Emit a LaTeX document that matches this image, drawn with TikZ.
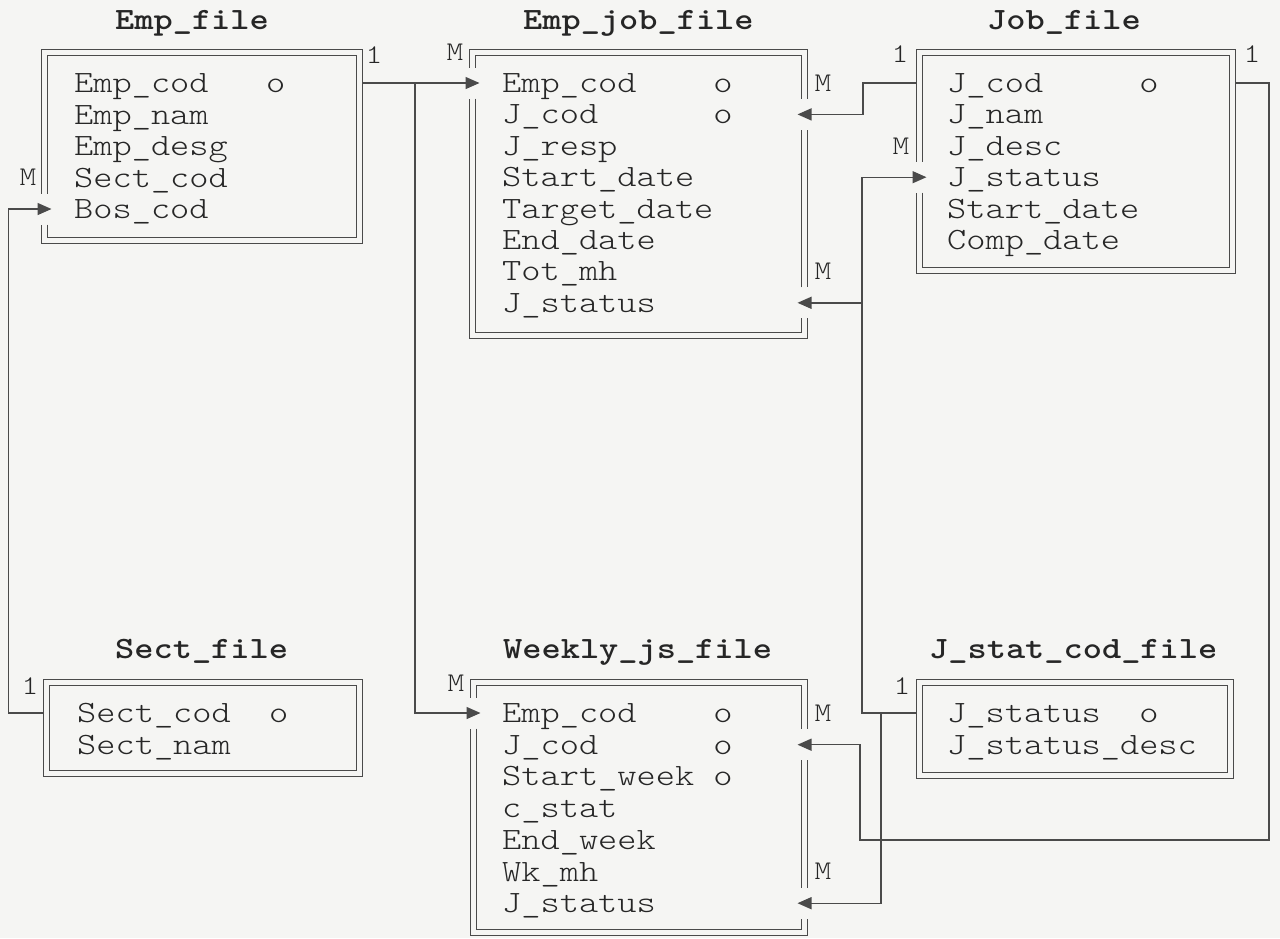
\documentclass[tikz,border=0pt]{standalone}
\usepackage{fontspec}
\newfontfamily\courfont{lmmonolt10-regular.otf}[FakeStretch=1.18, BoldFont=lmmonolt10-bold.otf]
\usetikzlibrary{arrows.meta,calc}
\definecolor{paper}{HTML}{F5F5F3}
\definecolor{inkgray}{HTML}{262626}
\definecolor{linegray}{HTML}{4A4A4A}

\tikzset{
  filebox/.style={draw=none, inner sep=0pt, outer sep=0pt},
  dbl/.style={draw=linegray, line width=1.4pt, double=paper, double distance=4.6pt},
  conn/.style={draw=linegray, line width=1.4pt, -{Triangle[length=14pt,width=12pt]}},
  fld/.style={font=\courfont\fontsize{31}{31}\selectfont, text=inkgray, anchor=west,
    inner sep=0pt, text height=19pt, text depth=0pt},
  ttl/.style={font=\courfont\bfseries\fontsize{31}{31}\selectfont, text=inkgray,
    anchor=base west, inner sep=0pt},
  mult/.style={font=\courfont\fontsize{27}{27}\selectfont, text=inkgray, inner sep=0pt},
}

\begin{document}
\begin{tikzpicture}[x=1pt, y=-1pt]
\fill[paper] (0,0) rectangle (1280,938);
\useasboundingbox (0,0) rectangle (1280,938);

% ---- file boxes (border centre lines) ----
\node[filebox, minimum width=315pt, minimum height=188pt] (ef) at (202,146.5) {};
\node[filebox, minimum width=332pt, minimum height=283pt] (ej) at (638.5,194) {};
\node[filebox, minimum width=313pt, minimum height=218pt] (jf) at (1076,161.5) {};
\node[filebox, minimum width=313pt, minimum height=91pt]  (sf) at (203,728) {};
\node[filebox, minimum width=331pt, minimum height=250pt] (wj) at (639,807.5) {};
\node[filebox, minimum width=311pt, minimum height=93pt]  (js) at (1075,729) {};

% ---- titles ----
\node[ttl] (tef) at (115,29)  {Emp\_file};
\node[ttl] (tej) at (523,29)  {Emp\_job\_file};
\node[ttl] (tjf) at (987,29)  {Job\_file};
\node[ttl] (tsf) at (115,658) {Sect\_file};
\node[ttl] (twj) at (503,658) {Weekly\_js\_file};
\node[ttl] (tjs) at (929,658) {J\_stat\_cod\_file};

% ---- fields ----
\foreach \t [count=\i] in {Emp\_cod\ \ \ o, Emp\_nam, Emp\_desg, Sect\_cod, Bos\_cod}
  \node[fld] (ef\i) at (74,{83+31.5*(\i-1)}) {\t};
\foreach \t [count=\i] in {Emp\_cod\ \ \ \ o, J\_cod\ \ \ \ \ \ o, J\_resp, Start\_date,
    Target\_date, End\_date, Tot\_mh, J\_status}
  \node[fld] (ej\i) at (502,{83+31.4*(\i-1)}) {\t};
\foreach \t [count=\i] in {J\_cod\ \ \ \ \ o, J\_nam, J\_desc, J\_status, Start\_date, Comp\_date}
  \node[fld] (jf\i) at (947,{83+31.4*(\i-1)}) {\t};
\foreach \t [count=\i] in {Sect\_cod\ \ o, Sect\_nam}
  \node[fld] (sf\i) at (77,{713+31.5*(\i-1)}) {\t};
\foreach \t [count=\i] in {Emp\_cod\ \ \ \ o, J\_cod\ \ \ \ \ \ o, Start\_week\ o, c\_stat,
    End\_week, Wk\_mh, J\_status}
  \node[fld] (wj\i) at (502,{713+31.7*(\i-1)}) {\t};
\foreach \t [count=\i] in {J\_status\ \ o, J\_status\_desc}
  \node[fld] (js\i) at (947,{713+31.7*(\i-1)}) {\t};

% ---- multiplicities ----
\node[mult] (efone) at (374,55)  {1};
\node[mult] (efm)   at (28,177)  {M};
\node[mult] (ejm0)  at (455,52)  {M};
\node[mult] (ejm1)  at (823,83)  {M};
\node[mult] (ejm2)  at (823,271) {M};
\node[mult] (jfone) at (900,54)  {1};
\node[mult] (jftwo) at (1252,54) {1};
\node[mult] (jfm)   at (901,146) {M};
\node[mult] (sfone) at (30,686)  {1};
\node[mult] (wjm0)  at (456,683) {M};
\node[mult] (wjm1)  at (823,713) {M};
\node[mult] (wjm2)  at (823,871) {M};
\node[mult] (jsone) at (902,686) {1};

% ---- connectors ----
\coordinate (split) at ($(ef.east|-ef1)+(55.5,0)$);
\draw[conn] (ef.east|-ef1) -- ($(ej.west|-ej1)+(7,0)$);
\draw[conn] (split) |- ($(wj.west|-wj1)+(7,0)$);
\draw[conn] (sf.west|-sf1) -- ++(-38,0) |- ($(ef.west|-ef5)+(7,0)$);
\draw[conn] (jf.west|-jf1) -- ++(-56.5,0) |- ($(ej.east|-ej2)+(-7,0)$);
\draw[conn] (jf.east|-jf1) -| ($(jf.east|-wj5)+(36.5,0)$)
  -- ($(wj.east|-wj5)+(55.5,0)$) |- ($(wj.east|-wj2)+(-7,0)$);
\coordinate (jbus)  at ($(js.west|-js1)+(-57.5,0)$);
\coordinate (jdrop) at ($(js.west|-js1)+(-38.5,0)$);
\draw[conn] (js.west|-js1) -- (jbus) |- ($(jf.west|-jf4)+(7,0)$);
\draw[conn] (jbus|-ej8) -- ($(ej.east|-ej8)+(-7,0)$);
\draw[conn] (jdrop) |- ($(wj.east|-wj7)+(-7,0)$);

% ---- double borders, open where arrows enter ----
\draw[dbl] ($(ef.west|-ef5)+(0,15.5)$) |- (ef.south east) |- (ef.north west)
  -- ($(ef.west|-ef5)+(0,-15.5)$);
\draw[dbl] ($(ej.west|-ej1)+(0,15.5)$) |- (ej.south east) -- ($(ej.east|-ej8)+(0,15.5)$);
\draw[dbl] ($(ej.east|-ej8)+(0,-15.5)$) -- ($(ej.east|-ej2)+(0,15.5)$);
\draw[dbl] ($(ej.east|-ej2)+(0,-15.5)$) |- (ej.north west) -- ($(ej.west|-ej1)+(0,-15.5)$);
\draw[dbl] ($(jf.west|-jf4)+(0,15.5)$) |- (jf.south east) |- (jf.north west)
  -- ($(jf.west|-jf4)+(0,-15.5)$);
\draw[dbl] (sf.north west) rectangle (sf.south east);
\draw[dbl] ($(wj.west|-wj1)+(0,15.5)$) |- (wj.south east) -- ($(wj.east|-wj7)+(0,15.5)$);
\draw[dbl] ($(wj.east|-wj7)+(0,-15.5)$) -- ($(wj.east|-wj2)+(0,15.5)$);
\draw[dbl] ($(wj.east|-wj2)+(0,-15.5)$) |- (wj.north west) -- ($(wj.west|-wj1)+(0,-15.5)$);
\draw[dbl] (js.north west) rectangle (js.south east);
\end{tikzpicture}
\end{document}
